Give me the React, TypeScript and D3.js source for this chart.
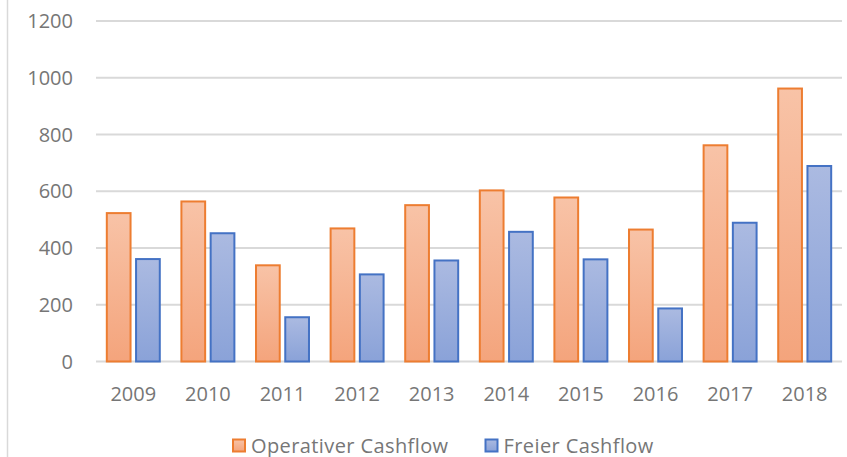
import React, { useEffect, useRef } from 'react';
import * as d3 from 'd3';

const width = 847;
const height = 457;
const margin = { top: 21, right: 5, bottom: 95.5, left: 96 };

const years = ['2009', '2010', '2011', '2012', '2013', '2014', '2015', '2016', '2017', '2018'];
const operativerCashflow = [523, 564, 339, 469, 551, 603, 578, 465, 762, 962];
const freierCashflow = [361, 452, 156, 307, 356, 457, 360, 187, 489, 689];
const yTicks = [0, 200, 400, 600, 800, 1000, 1200];

const seriesNames = ['Operativer Cashflow', 'Freier Cashflow'];
const seriesValues = [operativerCashflow, freierCashflow];
const strokes = ['#ed7d31', '#4472c4'];
const gradTop = ['#f8c3a7', '#abbae1'];
const gradBottom = ['#f4a47c', '#8aa2d8'];

const textColor = '#767676';
const font = '"Open Sans", sans-serif';

export default function App() {
  const ref = useRef<SVGSVGElement>(null);

  useEffect(() => {
    const svg = d3.select(ref.current);
    svg.selectAll('*').remove();

    const x0 = d3
      .scaleBand()
      .domain(years)
      .range([margin.left, width - margin.right])
      .paddingInner(0.263)
      .paddingOuter(0.1315);
    const x1 = d3
      .scaleBand()
      .domain(seriesNames)
      .range([0, x0.bandwidth()])
      .paddingInner(0.12);
    const y = d3
      .scaleLinear()
      .domain([0, 1200])
      .range([height - margin.bottom, margin.top]);

    const defs = svg.append('defs');
    seriesNames.forEach((s, i) => {
      const g = defs
        .append('linearGradient')
        .attr('id', `grad${i}`)
        .attr('x1', 0)
        .attr('y1', 0)
        .attr('x2', 0)
        .attr('y2', 1);
      g.append('stop').attr('offset', '0%').attr('stop-color', gradTop[i]);
      g.append('stop').attr('offset', '100%').attr('stop-color', gradBottom[i]);
    });

    // frame line on the left
    svg
      .append('line')
      .attr('x1', 7.5)
      .attr('x2', 7.5)
      .attr('y1', 0)
      .attr('y2', height)
      .attr('stroke', '#d9d9d9')
      .attr('stroke-width', 1.5);

    // gridlines
    svg
      .append('g')
      .selectAll('line')
      .data(yTicks)
      .join('line')
      .attr('x1', margin.left)
      .attr('x2', width - margin.right)
      .attr('y1', (d) => y(d))
      .attr('y2', (d) => y(d))
      .attr('stroke', '#d9d9d9')
      .attr('stroke-width', 2);

    // y labels
    svg
      .append('g')
      .selectAll('text')
      .data(yTicks)
      .join('text')
      .attr('x', 73)
      .attr('y', (d) => y(d))
      .attr('dy', '0.35em')
      .attr('text-anchor', 'end')
      .attr('fill', textColor)
      .style('font-family', font)
      .style('font-size', '20px')
      .text((d) => d);

    // bars
    const groups = svg
      .append('g')
      .selectAll('g')
      .data(years)
      .join('g')
      .attr('transform', (d) => `translate(${x0(d)},0)`);

    groups
      .selectAll('rect')
      .data((d, i) => seriesNames.map((s, k) => ({ s, k, v: seriesValues[k][i] })))
      .join('rect')
      .attr('x', (d) => (x1(d.s) as number) + 1)
      .attr('width', x1.bandwidth() - 2)
      .attr('y', (d) => y(d.v))
      .attr('height', (d) => y(0) - y(d.v))
      .attr('fill', (d) => `url(#grad${d.k})`)
      .attr('stroke', (d) => strokes[d.k])
      .attr('stroke-width', 2);

    // x labels
    svg
      .append('g')
      .selectAll('text')
      .data(years)
      .join('text')
      .attr('x', (d) => (x0(d) as number) + x0.bandwidth() / 2)
      .attr('y', 394)
      .attr('dy', '0.35em')
      .attr('text-anchor', 'middle')
      .attr('fill', textColor)
      .style('font-family', font)
      .style('font-size', '20px')
      .text((d) => d);

    // legend
    const legendX = [232, 484.5];
    const legend = svg
      .append('g')
      .selectAll('g')
      .data(seriesNames)
      .join('g')
      .attr('transform', (d, i) => `translate(${legendX[i]},445.5)`);
    legend
      .append('rect')
      .attr('x', 1)
      .attr('y', -6)
      .attr('width', 12)
      .attr('height', 12)
      .attr('fill', (d, i) => `url(#grad${i})`)
      .attr('stroke', (d, i) => strokes[i])
      .attr('stroke-width', 2);
    legend
      .append('text')
      .attr('x', 19)
      .attr('y', 0)
      .attr('dy', '0.35em')
      .attr('fill', textColor)
      .style('font-family', font)
      .style('font-size', '20px')
      .style('letter-spacing', '0.4px')
      .text((d) => d);
  }, []);

  return (
    <svg
      ref={ref}
      width={width}
      height={height}
      style={{ position: 'absolute', left: 0, top: 0, background: 'white' }}
    />
  );
}
